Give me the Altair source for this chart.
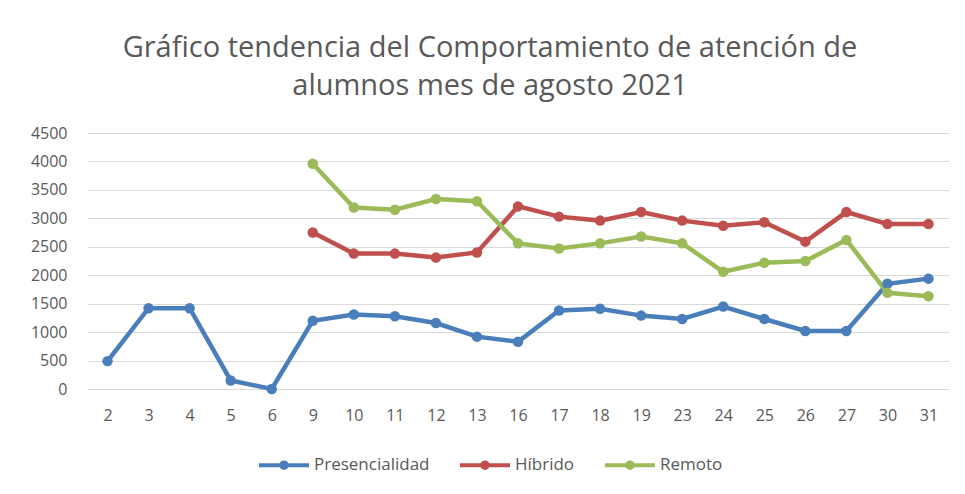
import altair as alt
import pandas as pd

dias = ["2", "3", "4", "5", "6", "9", "10", "11", "12", "13", "16", "17",
        "18", "19", "23", "24", "25", "26", "27", "30", "31"]
presencialidad = [490, 1420, 1420, 150, 0, 1200, 1310, 1280, 1160, 920, 830, 1380,
                  1410, 1290, 1230, 1450, 1230, 1020, 1020, 1850, 1940]
hibrido = [None, None, None, None, None, 2750, 2380, 2380, 2310, 2400, 3210, 3030,
           2960, 3110, 2960, 2870, 2930, 2590, 3110, 2900, 2900]
remoto = [None, None, None, None, None, 3960, 3190, 3150, 3340, 3300, 2560, 2470,
          2560, 2680, 2560, 2060, 2220, 2250, 2620, 1690, 1630]
series = ["Presencialidad", "Híbrido", "Remoto"]
colores = ["#4A7EBB", "#C0504D", "#9BBB59"]

rows = []
for name, vals in zip(series, [presencialidad, hibrido, remoto]):
    for d, v in zip(dias, vals):
        if v is not None:
            rows.append({"dia": d, "valor": v, "serie": name})
df = pd.DataFrame(rows)

FONT = "Open Sans"
GREY = "#595959"

legend_symbol = ("M-1,0L1,0M0.11,0A0.11,0.11,0,1,1,-0.11,0"
                 "A0.11,0.11,0,1,1,0.11,0")

base = alt.Chart(df).encode(
    x=alt.X("dia:N", sort=dias, title=None,
            axis=alt.Axis(labelAngle=0, ticks=False, domain=False, grid=False,
                          labelPadding=18, labelFontSize=16, labelColor=GREY,
                          labelFont=FONT)),
    y=alt.Y("valor:Q", title=None,
            scale=alt.Scale(domain=[0, 4500]),
            axis=alt.Axis(values=list(range(0, 4501, 500)), format="d",
                          ticks=False, domain=False, gridColor="#D9D9D9",
                          gridWidth=1, labelPadding=20, labelFontSize=16,
                          labelColor=GREY, labelFont=FONT)),
    color=alt.Color("serie:N", sort=series,
                    scale=alt.Scale(domain=series, range=colores),
                    legend=alt.Legend(title=None, orient="none",
                                      direction="horizontal",
                                      legendX=170, legendY=305,
                                      symbolType=legend_symbol,
                                      symbolSize=2500, symbolStrokeWidth=4,
                                      labelFontSize=17, labelColor=GREY,
                                      labelFont=FONT, columnPadding=22,
                                      labelOffset=3)),
    detail="serie:N",
)

lines = base.mark_line(strokeWidth=4.5)
points = base.mark_point(filled=True, size=110, opacity=1)

chart = alt.layer(lines, points).properties(
    width=862, height=256,
    autosize=alt.AutoSizeParams(type="none"),
    padding={"left": 79, "top": 125, "right": 8, "bottom": 97},
    title=alt.TitleParams(
        ["Gráfico tendencia del Comportamiento de atención de",
         "alumnos mes de agosto 2021"],
        font=FONT, fontSize=29, fontWeight="normal", color=GREY,
        anchor="middle", frame="group", dx=-28, offset=24, lineHeight=38),
).configure_view(stroke=None)

chart.save("out.html", embed_options={"renderer": "svg", "actions": False})
